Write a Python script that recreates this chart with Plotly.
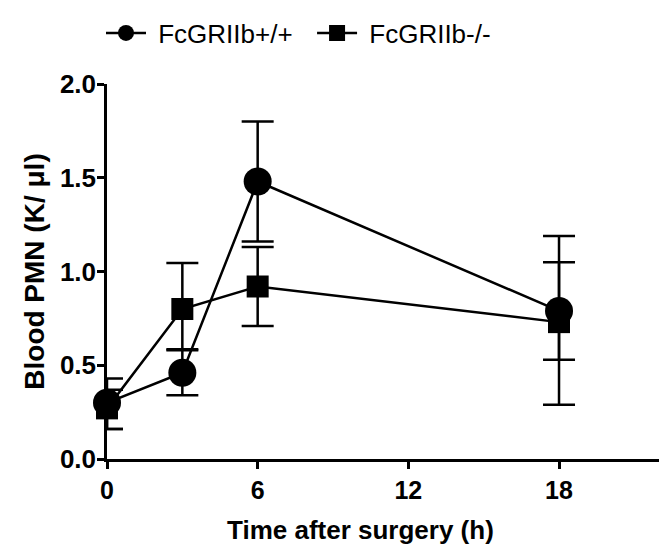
import plotly.graph_objects as go

time_h = [0, 3, 6, 18]
wt_mean = [0.30, 0.46, 1.48, 0.79]
wt_err_plus = [0.13, 0.12, 0.32, 0.40]
wt_err_minus = [0.14, 0.12, 0.32, 0.50]
ko_mean = [0.27, 0.80, 0.92, 0.73]
ko_err_plus = [0.10, 0.245, 0.21, 0.32]
ko_err_minus = [0.11, 0.215, 0.21, 0.20]

series_names = ["FcGRIIb+/+", "FcGRIIb-/-"]
x_ticks = [0, 6, 12, 18]
y_ticks = [0.0, 0.5, 1.0, 1.5, 2.0]

FONT = "Arial, Liberation Sans, sans-serif"

# page body has an 8px margin, so the figure is drawn 8px smaller and offset
W, H = 659, 546
L, T, B = 99, 76, 95
PW, PH = W - L, H - T - B

fig = go.Figure()
fig.add_trace(go.Scatter(
    x=time_h, y=wt_mean, name="\u00a0" + series_names[0] + "\u00a0\u00a0", mode="lines+markers",
    line=dict(color="black", width=2.5),
    marker=dict(symbol="circle", size=28, color="black"),
    error_y=dict(type="data", symmetric=False, array=wt_err_plus, arrayminus=wt_err_minus,
                 color="black", thickness=2.5, width=16),
    cliponaxis=False,
))
fig.add_trace(go.Scatter(
    x=time_h, y=ko_mean, name="\u00a0" + series_names[1], mode="lines+markers",
    line=dict(color="black", width=2.5),
    marker=dict(symbol="square", size=22, color="black"),
    error_y=dict(type="data", symmetric=False, array=ko_err_plus, arrayminus=ko_err_minus,
                 color="black", thickness=2.5, width=16),
    cliponaxis=False,
))

fig.update_layout(
    width=W, height=H,
    margin=dict(l=L, r=0, t=T, b=B, pad=0, autoexpand=False),
    paper_bgcolor="white", plot_bgcolor="white",
    font=dict(family=FONT, color="black"),
    showlegend=True,
    legend=dict(orientation="h", x=-6 / PW, xanchor="left", y=1 + 51 / PH, yanchor="middle",
                font=dict(size=26, family=FONT, color="black"), itemwidth=40,
                bgcolor="rgba(0,0,0,0)"),
    xaxis=dict(range=[0, 22.3], tickvals=x_ticks, ticktext=[str(v) for v in x_ticks],
               automargin=False,
               showgrid=False, zeroline=False, showline=True, linecolor="black", linewidth=2.5,
               ticks="outside", ticklen=7, tickwidth=2.5, tickcolor="black",
               tickfont=dict(size=25, family=FONT, color="black", weight="bold")),
    yaxis=dict(range=[0, 2.0], tickvals=y_ticks, tickformat=".1f", automargin=False,
               showgrid=False, zeroline=False, showline=True, linecolor="black", linewidth=2.5,
               ticks="outside", ticklen=7, tickwidth=2.5, tickcolor="black",
               ticklabelstandoff=-4,
               tickfont=dict(size=26, family=FONT, color="black", weight="bold"),
               title=dict(text="Blood PMN (K/ μl)", font=dict(size=28, family=FONT, color="black", weight="bold"),
                          standoff=8)),
)
fig.add_annotation(text="Time after surgery (h)", xref="paper", yref="paper",
                   x=(352 - L) / PW, y=-71 / PH, xanchor="center", yanchor="middle",
                   showarrow=False, font=dict(size=26, family=FONT, color="black", weight="bold"))

fig.write_html("out.html")
